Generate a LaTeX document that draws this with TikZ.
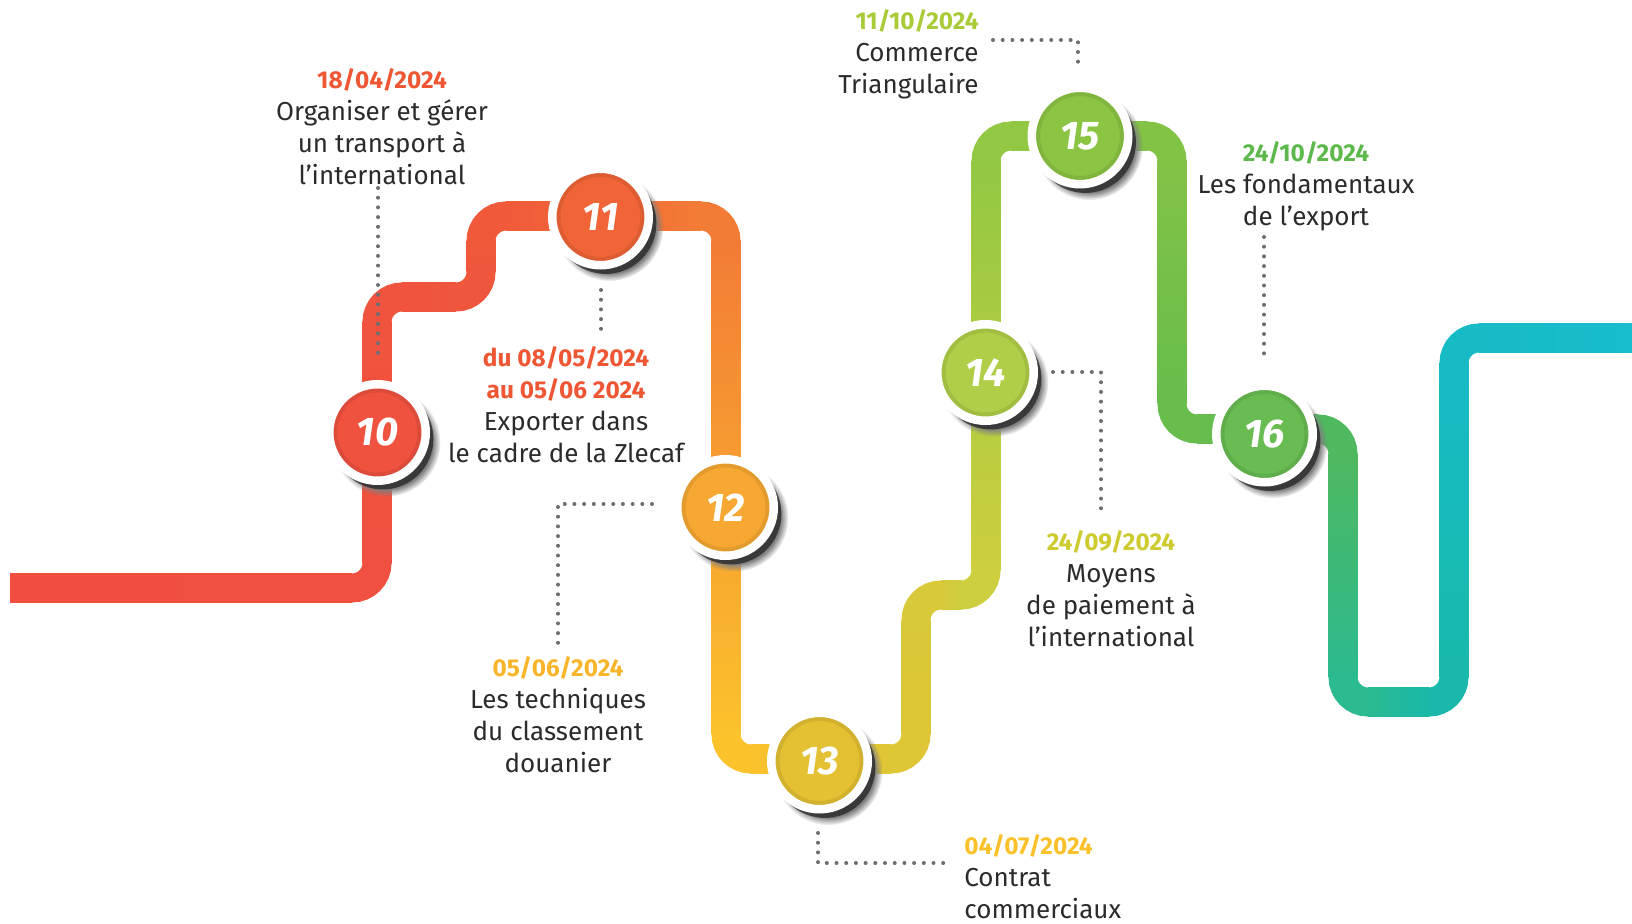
\documentclass[tikz,border=0pt]{standalone}
\usepackage{fontspec}
\setmainfont{Fira Sans}
\usetikzlibrary{positioning,shadows}

% path colours, one per bend
\definecolor{k0}{HTML}{F04F3F}
\definecolor{k1}{HTML}{F0503F}
\definecolor{k2}{HTML}{F0533E}
\definecolor{k3}{HTML}{F0563C}
\definecolor{k4}{HTML}{F05A3A}
\definecolor{k5}{HTML}{F27C35}
\definecolor{k6}{HTML}{FBC22C}
\definecolor{k7}{HTML}{DEC636}
\definecolor{k8}{HTML}{D8C93A}
\definecolor{k9}{HTML}{CDCF3E}
\definecolor{k10}{HTML}{92C843}
\definecolor{k11}{HTML}{82C346}
\definecolor{k12}{HTML}{68BD4C}
\definecolor{k13}{HTML}{4FB960}
\definecolor{k14}{HTML}{2CBA90}
\definecolor{k15}{HTML}{18B9AA}
\definecolor{k16}{HTML}{17BBC6}
\definecolor{k17}{HTML}{18BDCE}
% stops and dates
\definecolor{s10}{HTML}{F05240}
\definecolor{s11}{HTML}{F06437}
\definecolor{s12}{HTML}{F7A832}
\definecolor{s13}{HTML}{E4C033}
\definecolor{s14}{HTML}{B0CE48}
\definecolor{s15}{HTML}{8CC444}
\definecolor{s16}{HTML}{68BC52}
\definecolor{d10}{HTML}{EF5634}
\definecolor{d12}{HTML}{F8B52A}
\definecolor{d13}{HTML}{FBC12B}
\definecolor{d14}{HTML}{CDCB2F}
\definecolor{d15}{HTML}{A9CB38}
\definecolor{d16}{HTML}{5DB94C}
\definecolor{ink}{HTML}{2B2B2B}
\definecolor{leadgray}{HTML}{6D6E71}

\newcommand\dateline[2]{{\fontsize{12.2}{16}\selectfont\bfseries\color{#1}#2}}

\begin{document}
\begin{tikzpicture}[x=0.5pt,y=-0.5pt,
	stopdot/.style={circle, minimum size=48.25pt, inner sep=0pt, draw=white, line width=4.25pt, fill=#1,
		circular drop shadow={shadow xshift=4pt, shadow yshift=-4.5pt, opacity=1, shadow scale=1.12},
		general shadow={fill=black, opacity=0.55, shadow scale=1.05, shadow xshift=2.5pt, shadow yshift=-3pt},
		path picture={\draw[#1!70!black, opacity=0.25, line width=2pt] (path picture bounding box.center) circle (21pt);},
		text=white, font=\fontsize{20}{20}\selectfont\bfseries\itshape},
	info/.style={align=center, inner sep=0pt, text=ink, font=\fontsize{13}{16}\selectfont},
	leader/.style={draw=leadgray, line width=2pt, line cap=round, dash pattern=on 0pt off 4.85pt},
	roadbend/.style={line width=14.5pt, rounded corners=12.5pt}]
\useasboundingbox (0,0) rectangle (1632,924);

% straight pieces of the road
\foreach \y/\xa/\xb/\ca/\cb in {588/10/352/0/1, 297/402/456/2/3, 216/506/701/4/5, 759/751/891/6/7,
	595/941/961/8/9, 136/1011/1147/10/11, 429/1197/1318/12/13, 702/1368/1429/14/15, 338/1479/1632/16/17}
	\shade[left color=k\ca, right color=k\cb] (\xa,\y-14.5) rectangle (\xb,\y+14.5);
\foreach \x/\ya/\yb/\ca/\cb in {377/322/563/2/1, 481/241/272/4/3, 726/241/734/5/6, 916/620/734/8/7,
	986/161/570/10/9, 1172/161/404/11/12, 1343/454/677/13/14, 1454/363/677/16/15}
	\shade[top color=k\ca, bottom color=k\cb] (\x-14.5,\ya) rectangle (\x+14.5,\yb);
% bends
\foreach \xa/\ya/\xb/\yb/\xc/\yc/\c in {351/588/377/588/377/562/1, 377/323/377/297/403/297/2,
	455/297/481/297/481/271/3, 481/242/481/216/507/216/4, 700/216/726/216/726/242/5,
	726/733/726/759/752/759/6, 890/759/916/759/916/733/7, 916/621/916/595/942/595/8,
	960/595/986/595/986/569/9, 986/162/986/136/1012/136/10, 1146/136/1172/136/1172/162/11,
	1172/403/1172/429/1198/429/12, 1317/429/1343/429/1343/455/13, 1343/676/1343/702/1369/702/14,
	1428/702/1454/702/1454/676/15, 1454/364/1454/338/1480/338/16}
	\draw[roadbend, k\c] (\xa,\ya) -- (\xb,\yb) -- (\xc,\yc);

% texts
\node[info, anchor=north] (t10) at (382,68) {\dateline{d10}{18/04/2024}\\Organiser et gérer\\un transport à\\l’international};
\node[info, anchor=north] (t11) at (566,346) {\dateline{d10}{du 08/05/2024}\\\dateline{d10}{au 05/06 2024}\\Exporter dans\\le cadre de la Zlecaf};
\node[info, anchor=north] (t12) at (558,656) {\dateline{d12}{05/06/2024}\\Les techniques\\du classement\\douanier};
\node[info, anchor=north west, align=left] (t13) at (964,834) {\dateline{d13}{04/07/2024}\\Contrat\\commerciaux};
\node[info, anchor=north] (t14) at (1111,530) {\dateline{d14}{24/09/2024}\\Moyens\\de paiement à\\l’international};
\node[info, anchor=north east, align=right] (t15) at (979,9) {\dateline{d15}{11/10/2024}\\Commerce\\Triangulaire};
\node[info, anchor=north] (t16) at (1306,141) {\dateline{d16}{24/10/2024}\\Les fondamentaux\\de l’export};

% dotted leaders
\coordinate (a10) at (378,188); \coordinate (b10) at (378,361);
\coordinate (a11) at (601,290); \coordinate (b11) at (601,335);
\coordinate (a12) at (652,504); \coordinate (b12) at (558,645);
\coordinate (a13) at (818,833); \coordinate (b13) at (948,863);
\coordinate (a14) at (1053,372); \coordinate (b14) at (1101,515);
\coordinate (a15) at (993,40); \coordinate (b15) at (1078,62);
\coordinate (a16) at (1264,237); \coordinate (b16) at (1264,362);
\draw[leader] (a10) -- (b10);
\draw[leader] (a11) -- (b11);
\draw[leader] (a12) -| (b12);
\draw[leader] (a13) |- (b13);
\draw[leader] (a14) -| (b14);
\draw[leader] (a15) -| (b15);
\draw[leader] (a16) -- (b16);

% stops
\node[stopdot=s10] (n10) at (377.5,432.5) {10};
\node[stopdot=s11] (n11) at (600.5,217) {11};
\node[stopdot=s12] (n12) at (725.5,507.5) {12};
\node[stopdot=s13] (n13) at (819.5,761) {13};
\node[stopdot=s14] (n14) at (985.5,372.5) {14};
\node[stopdot=s15] (n15) at (1080,136) {15};
\node[stopdot=s16] (n16) at (1264.5,434) {16};
\end{tikzpicture}
\end{document}
